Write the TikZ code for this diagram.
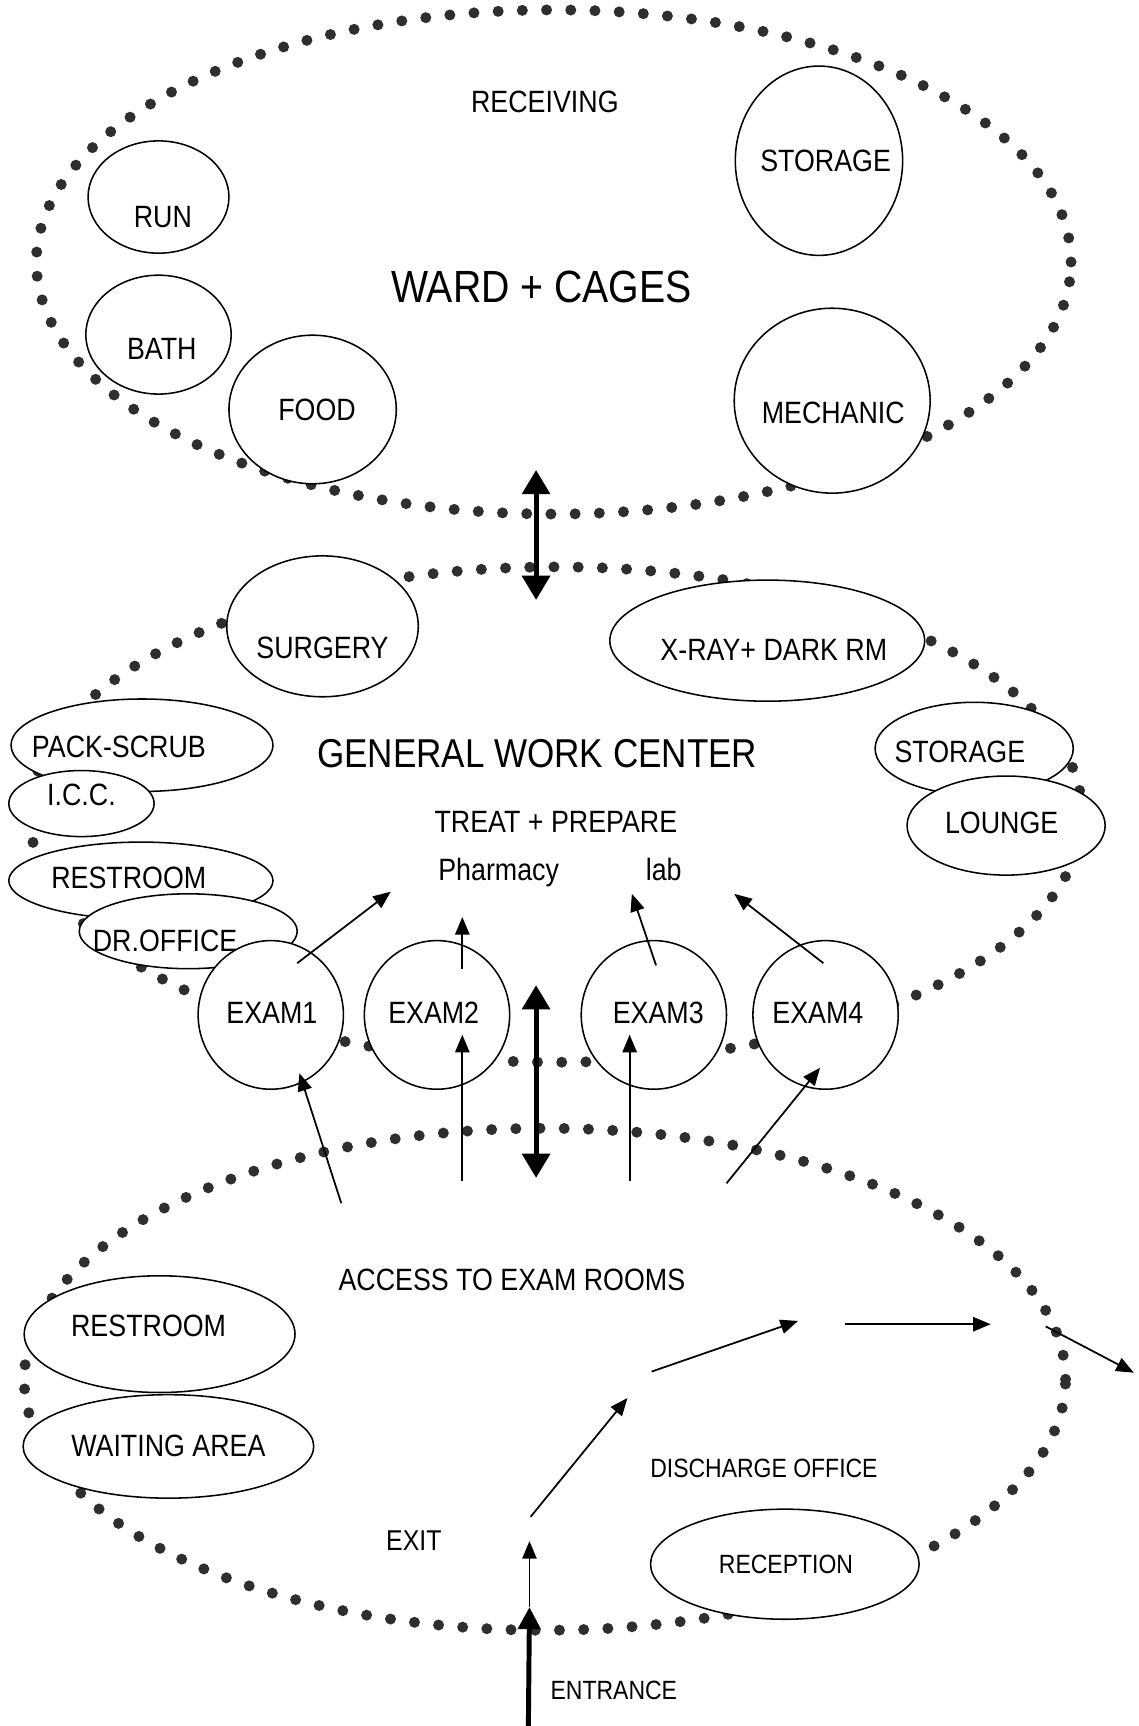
\documentclass[tikz,border=0pt]{standalone}
\usepackage{fontspec}
\setmainfont{Liberation Sans}[FakeStretch=0.87]
\usetikzlibrary{shapes.geometric,arrows.meta}
\begin{document}
\begin{tikzpicture}[x=1pt,y=-1pt,
  zone/.style={line width=10pt, line cap=round, dash pattern=on 0pt off 22pt, black!82},
  room/.style={draw, ellipse, fill=white, line width=1.4pt, inner sep=0pt},
  txt/.style={inner sep=0pt, text height=20pt, text depth=0pt, font=\fontsize{28}{32}\selectfont},
  small/.style={inner sep=0pt, text height=17.2pt, text depth=0pt, font=\fontsize{24}{28}\selectfont},
  mid/.style={inner sep=0pt, text height=18.6pt, text depth=0pt, font=\fontsize{26}{30}\selectfont},
  title/.style={inner sep=0pt, text height=0.716*#1 pt, text depth=0pt, font=\fontsize{#1}{#1}\selectfont},
  flow/.style={line width=1.6pt, -{Triangle[length=16pt,width=13pt]}},
  link/.style={line width=4.5pt, {Triangle[length=22pt,width=25pt]}-{Triangle[length=22pt,width=25pt]}},
]
\useasboundingbox (0,0) rectangle (1034,1568);

% ---------- dotted zone outlines ----------
\draw[zone] (503,238) ellipse [x radius=470pt, y radius=229pt];
\draw[zone] (505,740) ellipse [x radius=478pt, y radius=225pt];
\draw[zone] (495,1253) ellipse [x radius=473pt, y radius=228pt];

% ---------- ward rooms ----------
\node[room, minimum width=128pt, minimum height=102pt] (run) at (144,179) {};
\node[room, minimum width=132pt, minimum height=108pt] (bath) at (144,304) {};
\node[room, minimum width=152pt, minimum height=135pt] (food) at (284,372) {};
\node[room, minimum width=152pt, minimum height=172pt] (storeA) at (744,146) {};
\node[room, minimum width=178pt, minimum height=168pt] (mech) at (756,364) {};

% ---------- work center rooms ----------
\node[room, minimum width=174pt, minimum height=128pt] (surg) at (293,569) {};
\node[room, minimum width=286pt, minimum height=110pt] (xray) at (697,582) {};
\node[room, minimum width=238pt, minimum height=84pt] (pack) at (129,677) {};
\node[room, minimum width=132pt, minimum height=60pt] (icc) at (74,730) {};
\node[room, minimum width=240pt, minimum height=70pt] (restA) at (128,800) {};
\node[room, minimum width=198pt, minimum height=68pt] (dr) at (171,846) {};
\node[room, minimum width=180pt, minimum height=84pt] (storeB) at (885,680) {};
\node[room, minimum width=180pt, minimum height=90pt] (lounge) at (914,750) {};
\node[room, minimum width=132pt, minimum height=135pt] (ex1) at (246,922) {};
\node[room, minimum width=132pt, minimum height=135pt] (ex2) at (397,922) {};
\node[room, minimum width=132pt, minimum height=135pt] (ex3) at (594,922) {};
\node[room, minimum width=132pt, minimum height=135pt] (ex4) at (750,922) {};

% ---------- access area rooms ----------
\node[room, minimum width=246pt, minimum height=106pt] (restB) at (145,1212) {};
\node[room, minimum width=264pt, minimum height=94pt] (wait) at (153,1314) {};
\node[room, minimum width=244pt, minimum height=100pt] (recep) at (713,1421) {};

% ---------- labels ----------
\node[txt] (recv-t) at (495,92) {RECEIVING};
\node[title=41] (ward-t) at (492,260) {WARD + CAGES};
\node[txt] (run-t) at (148,197) {RUN};
\node[txt] (bath-t) at (147,317) {BATH};
\node[txt] (food-t) at (288,372) {FOOD};
\node[txt] (storeA-t) at (750,146) {STORAGE};
\node[txt] (mech-t) at (757,375) {MECHANIC};

\node[txt] (surg-t) at (293,588) {SURGERY};
\node[txt] (xray-t) at (703,590) {X-RAY+ DARK RM};
\node[txt] (pack-t) at (108,678) {PACK-SCRUB};
\node[txt] (icc-t) at (74,722) {I.C.C.};
\node[txt] (restA-t) at (117,797) {RESTROOM};
\node[txt] (dr-t) at (150,854) {DR.OFFICE};
\node[txt] (storeB-t) at (872,683) {STORAGE};
\node[txt] (lounge-t) at (910,747) {LOUNGE};
\node[title=36.6] (gwc-t) at (488,684) {GENERAL WORK CENTER};
\node[txt] (treat-t) at (505,746) {TREAT + PREPARE};
\node[txt] (pharm-t) at (453,790) {Pharmacy};
\node[txt] (lab-t) at (603,790) {lab};
\node[txt] (ex1-t) at (247,920) {EXAM1};
\node[txt] (ex2-t) at (394,920) {EXAM2};
\node[txt] (ex3-t) at (598,920) {EXAM3};
\node[txt] (ex4-t) at (743,920) {EXAM4};

\node[txt] (access-t) at (465,1162) {ACCESS TO EXAM ROOMS};
\node[txt] (restB-t) at (135,1204) {RESTROOM};
\node[txt] (wait-t) at (153,1313) {WAITING AREA};
\node[small] (disch-t) at (694,1334) {DISCHARGE OFFICE};
\node[small] (recep-t) at (714,1421) {RECEPTION};
\node[mid] (exit-t) at (376,1399) {EXIT};
\node[small, anchor=west] (ent-t) at (500,1535) {ENTRANCE};

% ---------- connector end points ----------
\coordinate (wardIn) at (487,427);
\coordinate (gwcTop) at (487,545);
\coordinate (gwcBot) at (487,895);
\coordinate (accTop) at (487,1070);

\coordinate (o1a) at (270,875); \coordinate (o1b) at (355,810);
\coordinate (o2a) at (420,880); \coordinate (o2b) at (420,833);
\coordinate (o3a) at (596,877); \coordinate (o3b) at (574,812);
\coordinate (o4a) at (748,875); \coordinate (o4b) at (667,812);

\coordinate (i1a) at (310,1093); \coordinate (i1b) at (272,975);
\coordinate (i2a) at (420,1073); \coordinate (i2b) at (420,940);
\coordinate (i3a) at (572,1073); \coordinate (i3b) at (572,940);
\coordinate (i4a) at (660,1075); \coordinate (i4b) at (745,970);

\coordinate (entA) at (480,1568); \coordinate (entB) at (481,1460);
\coordinate (p1) at (481,1400);
\coordinate (p2a) at (482,1378); \coordinate (p2b) at (570,1270);
\coordinate (p3a) at (592,1246); \coordinate (p3b) at (725,1200);
\coordinate (p4a) at (768,1203); \coordinate (p4b) at (900,1203);
\coordinate (p5a) at (950,1205); \coordinate (p5b) at (1030,1247);

% ---------- connectors ----------
\draw[link] (wardIn) -- (gwcTop);
\draw[link] (gwcBot) -- (accTop);

\draw[flow] (o1a) -- (o1b);
\draw[flow] (o2a) -- (o2b);
\draw[flow] (o3a) -- (o3b);
\draw[flow] (o4a) -- (o4b);

\draw[flow] (i1a) -- (i1b);
\draw[flow] (i2a) -- (i2b);
\draw[flow] (i3a) -- (i3b);
\draw[flow] (i4a) -- (i4b);

\draw[line width=4.5pt, -{Triangle[length=20pt,width=20pt]}] (entA) -- (entB);
\draw[flow] (entB) -- (p1);
\draw[flow] (p2a) -- (p2b);
\draw[flow] (p3a) -- (p3b);
\draw[flow] (p4a) -- (p4b);
\draw[flow] (p5a) -- (p5b);
\end{tikzpicture}
\end{document}
